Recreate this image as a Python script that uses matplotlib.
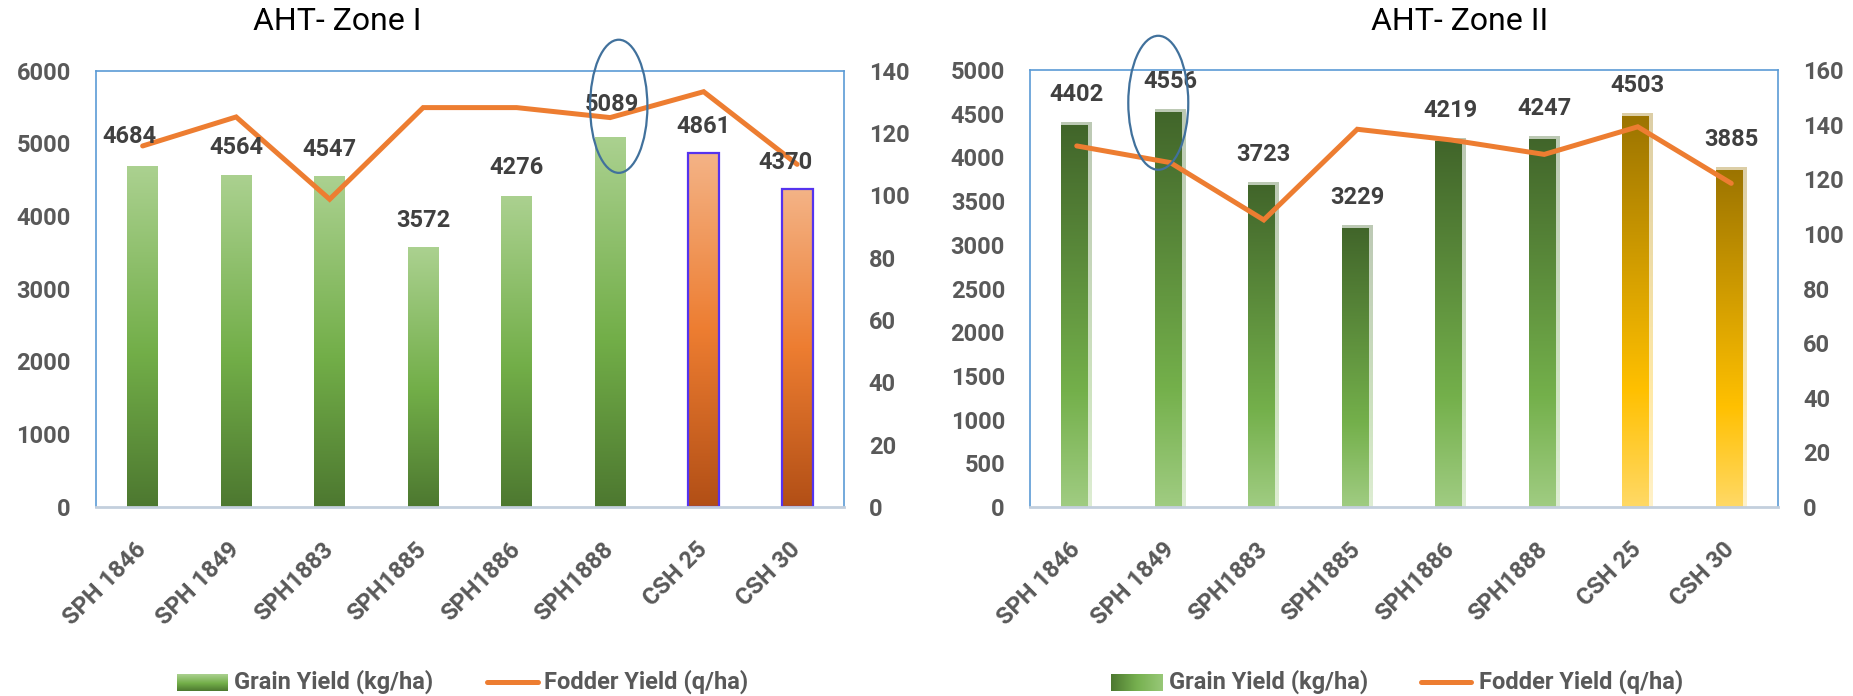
import numpy as np
import matplotlib
matplotlib.use("Agg")
import matplotlib.pyplot as plt
from matplotlib.colors import LinearSegmentedColormap
from matplotlib.patches import Ellipse
from matplotlib.lines import Line2D

plt.rcParams['font.family'] = ['Roboto', 'DejaVu Sans']

# ---- data -------------------------------------------------------------
varieties = ["SPH 1846", "SPH 1849", "SPH1883", "SPH1885",
             "SPH1886", "SPH1888", "CSH 25", "CSH 30"]

zone1_grain = [4684, 4564, 4547, 3572, 4276, 5089, 4861, 4370]
zone1_fodder = [115.8, 125.1, 98.7, 128.1, 128.1, 124.9, 133.2, 109.9]

zone2_grain = [4402, 4556, 3723, 3229, 4219, 4247, 4503, 3885]
zone2_fodder = [132.2, 126.1, 105.1, 138.3, 134.4, 129.1, 139.2, 118.5]

grain_label = "Grain Yield (kg/ha)"
fodder_label = "Fodder Yield (q/ha)"

# ---- style ------------------------------------------------------------
W, H = 1853, 696
TXT = "#595959"
LBL = "#404040"
ORANGE = "#ed7d31"
FRAME = "#5b9bd5"
BASE = "#c3cfdd"
FS = 17

green_up = [(0.0, "#4d7830"), (0.45, "#72ae48"), (1.0, "#abd190")]
orange_up = [(0.0, "#b24f16"), (0.5, "#ed7d31"), (1.0, "#f4b386")]
green_down = [(0.0, "#a0cc82"), (0.3, "#74b04b"), (1.0, "#41652a")]
gold_down = [(0.0, "#ffd966"), (0.3, "#ffc000"), (1.0, "#9c7400")]

grad = np.linspace(0, 1, 256).reshape(-1, 1)


def cmap_of(stops):
    return LinearSegmentedColormap.from_list("c", stops)


def gradient_bar(ax, xc, height, width, stops, x_left=None, alpha=1.0,
                 edgecolor="none", lw=0, zorder=2):
    x0 = xc - width / 2 if x_left is None else x_left
    bar = ax.bar([x0], [height], width, align="edge", facecolor="none",
                 edgecolor=edgecolor, linewidth=lw, zorder=zorder + 0.5)[0]
    im = ax.imshow(grad, cmap=cmap_of(stops), aspect="auto", origin="lower",
                   extent=(x0, x0 + width, 0, height), zorder=zorder,
                   interpolation="bilinear", alpha=alpha)
    im.set_clip_path(bar)
    return bar


def style_axes(ax, ax2, ymax_left, ystep_left, ymax_right, ystep_right):
    n = len(varieties)
    ax.set_xlim(-0.5, n - 0.5)
    ax.set_ylim(0, ymax_left)
    ax.set_yticks(np.arange(0, ymax_left + 1, ystep_left))
    ax2.set_ylim(0, ymax_right)
    ax2.set_yticks(np.arange(0, ymax_right + 1, ystep_right))
    ax.set_xticks(range(n))
    ax.set_xticklabels(varieties, rotation=45, ha="right", va="center",
                       rotation_mode="anchor")
    ax.tick_params(axis="x", length=0, pad=28, labelsize=FS, labelcolor=TXT)
    ax.tick_params(axis="y", length=0, pad=18, labelsize=FS, labelcolor=TXT)
    ax2.tick_params(axis="y", length=0, pad=18, labelsize=FS, labelcolor=TXT)
    for lab in ax.get_xticklabels() + ax.get_yticklabels() + ax2.get_yticklabels():
        lab.set_fontweight("bold")
    for s in ["left", "top", "right"]:
        ax.spines[s].set_color(FRAME)
        ax.spines[s].set_linewidth(1.2)
    ax.spines["bottom"].set_color(BASE)
    ax.spines["bottom"].set_linewidth(2.0)
    for s in ax2.spines.values():
        s.set_visible(False)


fig = plt.figure(figsize=(W / 100, H / 100), dpi=100)
fig.patch.set_facecolor("white")

ax_l = fig.add_axes([95.9 / W, 1 - 507 / H, 748 / W, 436.5 / H])
ax_r = fig.add_axes([1030 / W, 1 - 507 / H, 748 / W, 437 / H])
ax_l2 = ax_l.twinx()
ax_r2 = ax_r.twinx()

BW = 0.33

# ---- Zone I -----------------------------------------------------------
for i, v in enumerate(zone1_grain):
    if varieties[i].startswith("CSH"):
        gradient_bar(ax_l, i, v, BW, orange_up, edgecolor="#5533ee", lw=1.6)
    else:
        gradient_bar(ax_l, i, v, BW, green_up)

ax_l2.plot(range(len(zone1_fodder)), zone1_fodder, color=ORANGE, lw=3.6,
           solid_capstyle="round", solid_joinstyle="miter", zorder=3)

dx1 = [-13, 0, 0, 0, 0, 2, 0, -12]
dy1 = [30, 27, 27, 27, 28, 32, 27, 27]
for i, v in enumerate(zone1_grain):
    ax_l2.annotate(str(v), xy=(i, v), xycoords=ax_l.transData,
                   xytext=(dx1[i], dy1[i]), textcoords="offset pixels",
                   ha="center", va="center", fontsize=FS, fontweight="bold",
                   color=LBL, zorder=5)

style_axes(ax_l, ax_l2, 6000, 1000, 140, 20)

ax_l2.add_patch(Ellipse((0.699, 0.918), 0.0766, 0.305, transform=ax_l.transAxes,
                        fill=False, edgecolor="#41719c", lw=1.6, clip_on=False,
                        zorder=6))

# ---- Zone II ----------------------------------------------------------
strip_x = 4 / 93.5
strip_y = 3 / 437 * 5000
for i, v in enumerate(zone2_grain):
    stops = gold_down if varieties[i].startswith("CSH") else green_down
    x0 = i - BW / 2
    gradient_bar(ax_r, i, v, BW, stops, alpha=0.35, zorder=2)
    gradient_bar(ax_r, i, v - strip_y, BW - strip_x, stops, x_left=x0, zorder=2.2)

ax_r2.plot(range(len(zone2_fodder)), zone2_fodder, color=ORANGE, lw=3.6,
           solid_capstyle="round", solid_joinstyle="miter", zorder=3)

for i, v in enumerate(zone2_grain):
    ax_r2.annotate(str(v), xy=(i, v), xycoords=ax_r.transData,
                   xytext=(0, 27.5), textcoords="offset pixels",
                   ha="center", va="center", fontsize=FS, fontweight="bold",
                   color=LBL, zorder=5)

style_axes(ax_r, ax_r2, 5000, 500, 160, 20)

ax_r2.add_patch(Ellipse((0.1715, 0.925), 0.0802, 0.3066, transform=ax_r.transAxes,
                        fill=False, edgecolor="#41719c", lw=1.6, clip_on=False,
                        zorder=6))

# ---- titles -----------------------------------------------------------
fig.text(337 / W, 1 - 22 / H, "AHT- Zone I", ha="center", va="center",
         fontsize=23, color="black")
fig.text(1460 / W, 1 - 22 / H, "AHT- Zone II", ha="center", va="center",
         fontsize=23, color="black")


# ---- legends ----------------------------------------------------------
def legend_row(px_patch, px_text1, px_line, px_text2, stops, horizontal=False):
    y = 1 - 682 / H
    pax = fig.add_axes([px_patch[0] / W, 1 - 691 / H,
                        (px_patch[1] - px_patch[0]) / W, 17 / H])
    g = grad.T if horizontal else grad
    pax.imshow(g, cmap=cmap_of(stops), aspect="auto", origin="lower",
               interpolation="bilinear")
    pax.axis("off")
    fig.text(px_text1 / W, y, grain_label, ha="left", va="center",
             fontsize=FS, fontweight="bold", color=TXT)
    fig.add_artist(Line2D([px_line[0] / W, px_line[1] / W], [y, y],
                          transform=fig.transFigure, color=ORANGE, lw=3.6,
                          solid_capstyle="round"))
    fig.text(px_text2 / W, y, fodder_label, ha="left", va="center",
             fontsize=FS, fontweight="bold", color=TXT)


legend_row((177, 228), 234, (487, 538), 544, green_up)
legend_row((1111, 1162), 1169, (1421, 1471), 1479,
           [(0.0, "#4d7830"), (0.5, "#76b04f"), (1.0, "#98c878")],
           horizontal=True)

fig.savefig("out.png", dpi=100, facecolor="white")
